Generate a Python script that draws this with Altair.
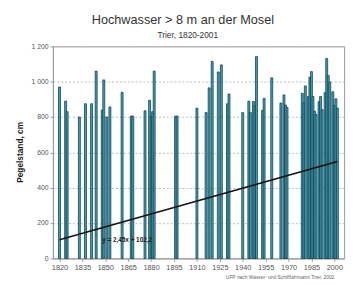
import altair as alt
import pandas as pd

years = [1820, 1824, 1825, 1833, 1837, 1841, 1844, 1848, 1849, 1851, 1853, 1861,
         1867, 1868, 1876, 1879, 1880, 1881, 1882, 1896, 1897, 1910, 1916, 1918,
         1920, 1924, 1926, 1930, 1931, 1940, 1944, 1945, 1947, 1948, 1949, 1953,
         1954, 1959, 1965, 1967, 1968, 1969, 1979, 1980, 1981, 1983, 1984, 1985,
         1986, 1987, 1988, 1990, 1991, 1992, 1994, 1995, 1996, 1997, 1999, 2000,
         2001, 2002]
levels = [970, 890, 830, 800, 875, 875, 1060, 840, 1010, 800, 857, 940,
          805, 805, 835, 895, 805, 830, 1060, 805, 805, 850, 825, 965,
          1115, 1055, 1095, 875, 930, 825, 890, 825, 888, 864, 1142, 838,
          906, 1022, 879, 925, 868, 855, 934, 879, 976, 916, 1026, 1057,
          916, 833, 815, 888, 916, 842, 939, 1131, 1035, 998, 943, 866,
          903, 851]

trend_years = [1820, 2002]
trend_values = [105, 548]

y_ticks = [0, 200, 400, 600, 800, 1000, 1200]
x_ticks = list(range(1820, 2001, 15))

title_text = "Hochwasser > 8 m an der Mosel"
subtitle_text = "Trier, 1820-2001"
equation_text = "y = 2,45x + 102,2"
source_text = "UFP nach Wasser- und Schifffahrtsamt Trier, 2002"

FONT = "Liberation Sans"

df = pd.DataFrame({"year": years, "value": levels})
trend = pd.DataFrame({"year": trend_years, "value": trend_values})

xscale = alt.Scale(domain=[1818.9, 2003.2], nice=False, zero=False)
yscale = alt.Scale(domain=[0, 1200], nice=False)

x_axis = alt.Axis(
    values=x_ticks, format="d",
    grid=False, tickSize=3, labelFontSize=7.5, labelColor="#555",
    domainColor="#999", tickColor="#999", labelPadding=2, title=None,
    labelOverlap=False, labelFont=FONT)
y_axis = alt.Axis(
    values=y_ticks,
    labelExpr="replace(format(datum.value, ','), ',', ' ')",
    labelOverlap=False,
    gridDash=[2, 2], gridColor="#bbb", tickSize=3, tickColor="#999",
    domainColor="#999", labelFontSize=7, labelColor="#555", labelFont=FONT,
    title="Pegelstand, cm", titleFontSize=8.5, titleFontWeight="bold",
    titleColor="#222", titleFont=FONT, titleX=-34, titleY=108,
    titleAlign="center", titleBaseline="middle")

bars = alt.Chart(df).mark_bar(
    width=2.0, color="#4a9db0", stroke="#0d4556", strokeWidth=0.8
).encode(
    x=alt.X("year:Q", scale=xscale, axis=x_axis),
    y=alt.Y("value:Q", scale=yscale, axis=y_axis),
)

line = alt.Chart(trend).mark_line(color="#111", strokeWidth=1.5).encode(
    x=alt.X("year:Q", scale=xscale, axis=x_axis),
    y=alt.Y("value:Q", scale=yscale, axis=y_axis),
)

eq = alt.Chart(pd.DataFrame({"year": [1848], "value": [106], "t": [equation_text]})).mark_text(
    align="left", baseline="middle", fontSize=6.5, fontWeight="bold", font=FONT, color="#222"
).encode(x=alt.X("year:Q", scale=xscale, axis=x_axis),
         y=alt.Y("value:Q", scale=yscale, axis=y_axis), text="t:N")

title = alt.Chart(pd.DataFrame({"t": [title_text]})).mark_text(
    align="center", baseline="middle", fontSize=13, font=FONT, color="#333"
).encode(x=alt.value(133), y=alt.value(-27), text="t:N")

subtitle = alt.Chart(pd.DataFrame({"t": [subtitle_text]})).mark_text(
    align="center", baseline="middle", fontSize=8.5, font=FONT, color="#333"
).encode(x=alt.value(138), y=alt.value(-12), text="t:N")

source = alt.Chart(pd.DataFrame({"t": [source_text]})).mark_text(
    align="right", baseline="middle", fontSize=5, font=FONT, color="#666"
).encode(x=alt.value(288), y=alt.value(236), text="t:N")

chart = alt.layer(bars, line, eq, title, subtitle, source).properties(
    width=298, height=217,
    autosize=alt.AutoSizeParams(type="none"),
    padding={"left": 46, "top": 36, "right": 5, "bottom": 24},
    background="white",
).configure_view(stroke="#999", strokeWidth=1)

chart.save("out.html", embed_options={"renderer": "svg", "actions": False})
